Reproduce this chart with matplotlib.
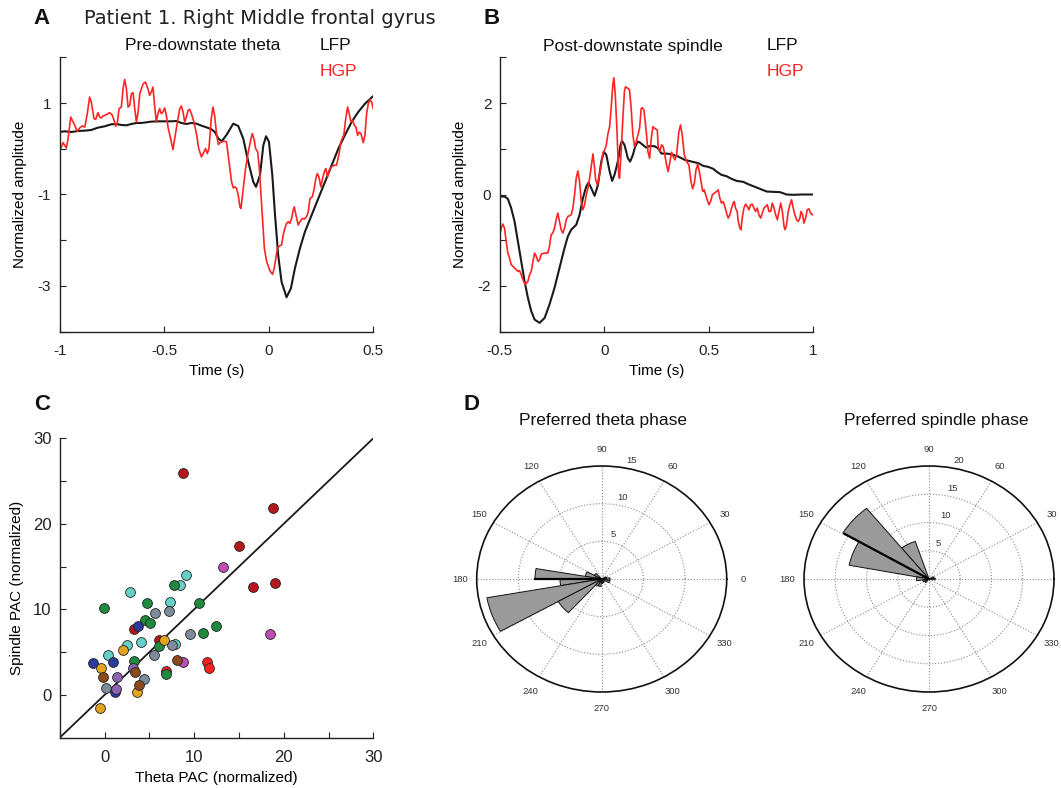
import numpy as np
import matplotlib
matplotlib.use('Agg')
import matplotlib.pyplot as plt

plt.rcParams['font.family'] = ['Liberation Sans', 'DejaVu Sans']

# ---------------- Panel A : pre-downstate theta ----------------
lfp_a_t = [-1.0, -0.976, -0.944, -0.912, -0.880, -0.849, -0.817, -0.785, -0.753, -0.729,
           -0.705, -0.681, -0.657, -0.633, -0.609, -0.586, -0.562, -0.530, -0.498, -0.466,
           -0.442, -0.418, -0.394, -0.370, -0.346, -0.322, -0.298, -0.274, -0.258,
           -0.241, -0.225, -0.201, -0.170, -0.146, -0.122, -0.098, -0.074, -0.061, -0.042,
           -0.026, -0.013, 0.001, 0.017, 0.030, 0.045, 0.061, 0.085, 0.106, 0.125,
           0.149, 0.173, 0.205, 0.237, 0.269, 0.301, 0.333, 0.364, 0.396, 0.428, 0.460, 0.500]
lfp_a_y = [0.367, 0.382, 0.367, 0.389, 0.396, 0.411, 0.462, 0.491, 0.535, 0.542,
           0.520, 0.513, 0.542, 0.564, 0.564, 0.578, 0.593, 0.600, 0.600, 0.600,
           0.607, 0.564, 0.542, 0.564, 0.549, 0.505, 0.469, 0.425, 0.367,
           0.222, 0.164, 0.309, 0.549, 0.498, 0.222, -0.287, -0.724, -0.833, -0.578,
           0.076, 0.273, 0.149, -0.578, -1.451, -2.324, -2.905, -3.247, -3.051, -2.615,
           -2.178, -1.815, -1.451, -1.087, -0.724, -0.360, 0.004, 0.295, 0.585, 0.804, 0.985, 1.153]

hgp_a_t = [-1.000, -0.992, -0.984, -0.976, -0.968, -0.960, -0.947, -0.936, -0.928, -0.916,
           -0.904, -0.893, -0.880, -0.868, -0.857, -0.849, -0.836, -0.828, -0.817, -0.809,
           -0.801, -0.793, -0.777, -0.761, -0.750, -0.740, -0.732, -0.724, -0.716, -0.705,
           -0.697, -0.689, -0.681, -0.673, -0.665, -0.657, -0.649, -0.641, -0.633, -0.625,
           -0.617, -0.601, -0.590, -0.578, -0.570, -0.562, -0.554, -0.546, -0.538, -0.530,
           -0.522, -0.514, -0.506, -0.498, -0.490, -0.482, -0.466, -0.458, -0.450, -0.437,
           -0.426, -0.418, -0.410, -0.402, -0.394, -0.386, -0.378, -0.370, -0.358, -0.346,
           -0.335, -0.322, -0.310, -0.302, -0.294, -0.286, -0.275, -0.267, -0.259,
           -0.249, -0.241, -0.233, -0.217, -0.210, -0.202, -0.194, -0.186, -0.178, -0.170,
           -0.162, -0.154, -0.146, -0.138, -0.133, -0.122, -0.111, -0.098, -0.085, -0.079,
           -0.069, -0.063, -0.053, -0.045, -0.037, -0.029, -0.021, -0.010, 0.006, 0.018,
           0.026, 0.034, 0.042, 0.053, 0.061, 0.069, 0.077, 0.085, 0.093, 0.101,
           0.109, 0.117, 0.122, 0.130, 0.141, 0.149, 0.160, 0.170, 0.181, 0.189,
           0.197, 0.208, 0.216, 0.225, 0.232, 0.240, 0.249, 0.257, 0.268, 0.273,
           0.281, 0.289, 0.300, 0.313, 0.324, 0.335, 0.345, 0.351, 0.359, 0.367,
           0.377, 0.385, 0.393, 0.401, 0.409, 0.417, 0.425, 0.433, 0.441, 0.452,
           0.460, 0.468, 0.476, 0.484, 0.492, 0.500]
hgp_a_y = [-0.069, 0.040, 0.135, 0.076, 0.018, 0.222, 0.695, 0.585, 0.513, 0.382,
           0.455, 0.498, 0.476, 0.767, 1.131, 1.022, 0.658, 0.644, 0.789, 0.695,
           0.673, 0.716, 0.745, 0.789, 0.745, 0.622, 0.491, 0.585, 0.876, 0.913,
           1.313, 1.516, 1.313, 0.913, 0.949, 1.204, 1.225, 0.876, 0.585, 0.804,
           1.204, 1.422, 1.458, 1.313, 1.167, 1.240, 1.349, 0.949, 0.585, 0.767,
           0.876, 0.767, 0.804, 0.891, 0.731, 0.476, 0.149, -0.018, 0.222, 0.585,
           0.876, 0.935, 0.804, 0.585, 0.695, 0.840, 0.862, 0.767, 0.585, 0.331,
           0.004, -0.178, -0.069, 0.004, -0.105, 0.004, 0.658, 0.913, 0.731,
           0.295, 0.091, 0.135, 0.164, 0.164, 0.149, -0.142, -0.433, -0.724, -0.855,
           -0.833, -0.869, -1.015, -1.269, -1.305, -0.869, -0.433, -0.069, 0.222, 0.331,
           0.185, 0.004, -0.069, -0.433, -1.015, -1.596, -2.178, -2.469, -2.673, -2.745,
           -2.615, -2.396, -2.164, -2.120, -2.105, -1.887, -1.742, -1.633, -1.596, -1.633,
           -1.524, -1.342, -1.269, -1.451, -1.669, -1.596, -1.524, -1.538, -1.487, -1.378,
           -1.087, -1.051, -0.905, -0.651, -0.542, -0.615, -0.833, -0.651, -0.469, -0.433,
           -0.615, -0.469, -0.396, -0.360, -0.360, -0.142, 0.149, 0.222, 0.295, 0.622,
           0.913, 0.767, 0.585, 0.622, 0.513, 0.476, 0.295, 0.367, 0.331, 0.135,
           0.295, 0.767, 0.985, 1.073, 1.022, 0.876]

# ---------------- Panel B : post-downstate spindle ----------------
lfp_b_t = [-0.500, -0.477, -0.461, -0.445, -0.429, -0.413, -0.397, -0.381, -0.365, -0.349,
           -0.333, -0.309, -0.285, -0.262, -0.238, -0.214, -0.190, -0.174, -0.158, -0.134,
           -0.118, -0.102, -0.086, -0.075, -0.062, -0.046, -0.030, -0.014, -0.002, 0.010,
           0.026, 0.038, 0.049, 0.065, 0.078, 0.085, 0.097, 0.113, 0.124, 0.137,
           0.148, 0.161, 0.169, 0.185, 0.201, 0.217, 0.241, 0.257,
           0.274, 0.298, 0.322, 0.354, 0.386, 0.418, 0.450, 0.474, 0.498, 0.522,
           0.537, 0.561, 0.585, 0.609, 0.633, 0.665, 0.689, 0.721, 0.753, 0.777,
           0.809, 0.841, 0.872, 0.904, 0.944, 1.000]
lfp_b_y = [-0.044, -0.044, -0.095, -0.298, -0.589, -1.025, -1.462, -1.898, -2.262, -2.553,
           -2.735, -2.807, -2.698, -2.407, -2.044, -1.607, -1.171, -0.916, -0.771, -0.662,
           -0.444, -0.080, 0.175, 0.262, 0.138, -0.029, 0.211, 0.720, 0.938, 0.865,
           0.502, 0.298, 0.429, 0.720, 1.084, 1.171, 1.084, 0.793, 0.720, 0.865,
           1.047, 1.156, 1.142, 1.084, 1.025, 1.062, 1.055, 1.011,
           0.895, 0.895, 0.880, 0.829, 0.756, 0.720, 0.684, 0.625, 0.604, 0.560,
           0.502, 0.429, 0.400, 0.342, 0.298, 0.276, 0.225, 0.167, 0.109, 0.065,
           0.058, 0.051, 0.000, -0.007, 0.000, 0.000]

hgp_b_t = [-0.501, -0.493, -0.485, -0.477, -0.469, -0.461, -0.453, -0.445, -0.437, -0.429,
           -0.421, -0.413, -0.405, -0.397, -0.389, -0.378, -0.365, -0.357, -0.349, -0.341,
           -0.333, -0.325, -0.317, -0.309, -0.301, -0.285, -0.270, -0.262, -0.254, -0.246,
           -0.238, -0.230, -0.222, -0.214, -0.206, -0.198, -0.190, -0.182, -0.174, -0.166,
           -0.158, -0.150, -0.142, -0.134, -0.126, -0.118, -0.110, -0.102, -0.094, -0.086,
           -0.078, -0.070, -0.062, -0.054, -0.046, -0.041, -0.033, -0.026, -0.014, -0.006,
           0.002, 0.010, 0.018, 0.026, 0.033, 0.041, 0.046, 0.053, 0.061, 0.069,
           0.073, 0.081, 0.089, 0.097, 0.102, 0.113, 0.121, 0.129, 0.137, 0.145,
           0.153, 0.161, 0.169, 0.177, 0.182, 0.190, 0.201, 0.209, 0.217, 0.225,
           0.233, 0.241, 0.254,
           0.258, 0.266, 0.274, 0.282, 0.290, 0.298, 0.306, 0.314, 0.322, 0.330,
           0.338, 0.346, 0.357, 0.365, 0.373, 0.383, 0.394, 0.405, 0.415, 0.423,
           0.431, 0.439, 0.447, 0.455, 0.463, 0.471, 0.478, 0.490, 0.501, 0.509,
           0.517, 0.526, 0.537, 0.545, 0.553, 0.561, 0.569, 0.577, 0.585, 0.593,
           0.601, 0.609, 0.617, 0.622, 0.628, 0.636, 0.641, 0.649, 0.654, 0.660,
           0.668, 0.676, 0.684, 0.692, 0.700, 0.708, 0.716, 0.724, 0.732, 0.740,
           0.748, 0.756, 0.764, 0.772, 0.780, 0.788, 0.796, 0.804, 0.812, 0.820,
           0.828, 0.836, 0.844, 0.852, 0.860, 0.865, 0.872, 0.880, 0.888, 0.896,
           0.904, 0.912, 0.920, 0.928, 0.936, 0.941, 0.949, 0.955, 0.963, 0.971,
           0.979, 0.987, 0.995, 1.000]
hgp_b_y = [-0.916, -0.735, -0.647, -0.735, -1.025, -1.280, -1.389, -1.535, -1.571, -1.607,
           -1.644, -1.680, -1.665, -1.753, -1.862, -1.971, -1.898, -1.753, -1.680, -1.462,
           -1.280, -1.353, -1.462, -1.425, -1.302, -1.280, -1.280, -1.135, -0.880, -0.844,
           -0.735, -0.553, -0.407, -0.589, -0.771, -0.844, -0.735, -0.553, -0.480, -0.465,
           -0.444, -0.298, -0.007, 0.356, 0.516, 0.284, -0.153, -0.335, -0.225, -0.007,
           0.138, 0.356, 0.611, 0.887, 0.575, 0.320, 0.211, 0.356, 0.647, 0.902,
           0.975, 1.084, 1.338, 1.484, 1.884, 2.393, 2.553, 2.175, 1.375, 0.429,
           0.356, 0.938, 1.665, 2.284, 2.356, 2.320, 2.284, 1.884, 1.302, 1.047,
           1.156, 1.302, 1.447, 1.884, 1.898, 1.847, 1.375, 0.938, 0.793, 1.229,
           1.484, 1.447, 1.411,
           1.047, 0.938, 1.084, 1.047, 0.865, 0.647, 0.502, 0.720, 0.924, 0.829,
           0.756, 0.865, 1.375, 1.520, 1.302, 0.865, 0.720, 0.647, 0.284, 0.124,
           0.247, 0.538, 0.662, 0.502, 0.284, 0.065, 0.102, -0.080, -0.225, -0.153,
           -0.007, 0.029, 0.065, 0.102, -0.080, -0.189, -0.153, -0.262, -0.407, -0.516,
           -0.444, -0.298, -0.189, -0.153, -0.298, -0.371, -0.589, -0.735, -0.771, -0.516,
           -0.298, -0.211, -0.262, -0.335, -0.225, -0.211, -0.298, -0.371, -0.298, -0.444,
           -0.516, -0.407, -0.298, -0.262, -0.225, -0.371, -0.371, -0.189, -0.298, -0.444,
           -0.553, -0.371, -0.189, -0.371, -0.698, -0.771, -0.662, -0.371, -0.225, -0.116,
           -0.298, -0.444, -0.553, -0.589, -0.516, -0.371, -0.444, -0.625, -0.516, -0.335,
           -0.313, -0.407, -0.444, -0.429]

# ---------------- Panel C : theta vs spindle PAC, per patient ----------------
pac_colors = ['#b5171d', '#c04db4', '#ff1f1f', '#66d0c8', '#1f8a3e',
              '#7d8c9a', '#2b3b9e', '#e3a421', '#8e62b3', '#8b4a1e']
pac_theta = [
    [8.8, 18.8, 15.0, 16.6, 19.0, 3.3, 6.1],
    [13.2, 18.5, 8.8],
    [6.9, 11.4, 11.7],
    [2.9, 9.1, 8.4, 7.3, 4.1, 2.5, 0.4, 7.9],
    [-0.1, 4.7, 7.8, 10.5, 4.5, 5.1, 11.0, 12.4, 3.3, 6.1, 6.9],
    [5.6, 7.2, 9.5, 5.5, 7.5, 4.4, 0.2],
    [-1.3, 0.9, 3.7, 1.2],
    [-0.4, 2.1, 6.6, 3.6, -0.5],
    [1.45, 3.2, 1.3],
    [-0.2, 3.4, 3.9, 8.1],
]
pac_spindle = [
    [25.9, 21.9, 17.4, 12.6, 13.1, 7.7, 6.4],
    [14.9, 7.1, 3.8],
    [2.8, 3.8, 3.2],
    [12.0, 14.0, 12.9, 10.9, 6.2, 5.8, 4.7, 6.0],
    [10.2, 10.7, 12.9, 10.8, 8.8, 8.4, 7.2, 8.1, 4.0, 5.7, 2.4],
    [9.6, 9.8, 7.1, 4.7, 5.8, 1.9, 0.8],
    [3.7, 3.8, 8.1, 0.3],
    [3.2, 5.2, 6.4, 0.35, -1.5],
    [2.1, 3.2, 0.7],
    [2.1, 2.7, 1.2, 4.1],
]
unity_line = [-5, 30]

# ---------------- Panel D : preferred phase roses ----------------
theta_bin_center = [161, 175, 185, 200, 219, 237, 142, 256, 340, 0, 20, 275, 300]
theta_bin_width = [19, 10, 10, 19.5, 18.5, 19, 19, 19, 19, 19, 19, 19, 19]
theta_bin_count = [2, 8, 5, 14, 6, 1, 1, 1, 1, 1, 0.6, 0.6, 0.5]
theta_mean_angle, theta_mean_len = 180, 8
theta_rmax = 15
theta_rings = [5, 10, 15]
theta_angle_labels = ['0', '30', '60', '90', '120', '150', '180', '210', '240', '270', '300', '330']

spindle_bin_center = [118.5, 139, 159.3, 179, 199, 0, 20, 220]
spindle_bin_width = [20.5, 20.8, 19.8, 20, 20, 20, 20, 20]
spindle_bin_count = [7, 16, 13, 2, 1, 1, 0.8, 0.8]
spindle_mean_angle, spindle_mean_len = 149.4, 15.7
spindle_rmax = 20
spindle_rings = [5, 10, 15, 20]
# the "0" label of this rose falls outside the figure in the reference
spindle_angle_labels = ['', '30', '60', '90', '120', '150', '180', '210', '240', '270', '300', '330']

# ---------------- figure ----------------
W, H = 1061, 788
fig = plt.figure(figsize=(W / 100, H / 100), dpi=100)


def fx(px):
    return px / W


def fy(py):
    return 1 - py / H


def style_cart(ax, lsize):
    for s in ['top', 'right']:
        ax.spines[s].set_visible(False)
    for s in ['left', 'bottom']:
        ax.spines[s].set_linewidth(1.0)
        ax.spines[s].set_color('#222222')
    ax.tick_params(direction='in', length=4, width=0.8, labelsize=lsize,
                   colors='#222222')
    ax.tick_params(axis='x', pad=9)
    ax.tick_params(axis='y', pad=6)


RED = '#ff2424'
BLK = '#1a1a1a'

# Panel A
axA = fig.add_axes([fx(59.7), fy(331.7), fx(373.3 - 59.7), (331.7 - 57.3) / H])
axA.plot(lfp_a_t, lfp_a_y, color=BLK, lw=1.5)
axA.plot(hgp_a_t, hgp_a_y, color=RED, lw=1.2)
axA.set_xlim(-1, 0.5)
axA.set_ylim(-4, 2)
axA.set_xticks([-1, -0.5, 0, 0.5])
axA.set_xticklabels(['-1', '-0.5', '0', '0.5'])
axA.set_yticks([-4, -3, -2, -1, 0, 1, 2])
axA.set_yticklabels(['', '-3', '', '-1', '', '1', ''])
style_cart(axA, 11)
axA.set_xlabel('Time (s)', fontsize=11, labelpad=4)
axA.set_ylabel('Normalized amplitude', fontsize=11, labelpad=8)

# Panel B
axB = fig.add_axes([fx(499.7), fy(331.7), fx(813.3 - 499.7), (331.7 - 57.3) / H])
axB.plot(lfp_b_t, lfp_b_y, color=BLK, lw=1.5)
axB.plot(hgp_b_t, hgp_b_y, color=RED, lw=1.2)
axB.set_xlim(-0.5, 1)
axB.set_ylim(-3, 3)
axB.set_xticks([-0.5, 0, 0.5, 1])
axB.set_xticklabels(['-0.5', '0', '0.5', '1'])
axB.set_yticks([-3, -2, -1, 0, 1, 2, 3])
axB.set_yticklabels(['', '-2', '', '0', '', '2', ''])
style_cart(axB, 11)
axB.set_xlabel('Time (s)', fontsize=11, labelpad=4)
axB.set_ylabel('Normalized amplitude', fontsize=11, labelpad=8)

# Panel C
axC = fig.add_axes([fx(59.7), fy(737.7), fx(373.3 - 59.7), (737.7 - 438.3) / H])
axC.plot(unity_line, unity_line, color=BLK, lw=1.3, zorder=2)
for col, xs, ys in zip(pac_colors, pac_theta, pac_spindle):
    axC.scatter(xs, ys, s=50, color=col, edgecolors='#222222', linewidths=0.6, zorder=3)
axC.set_xlim(-5, 30)
axC.set_ylim(-5, 30)
ticksC = [-5, 0, 5, 10, 15, 20, 25, 30]
labsC = ['', '0', '', '10', '', '20', '', '30']
axC.set_xticks(ticksC)
axC.set_xticklabels(labsC)
axC.set_yticks(ticksC)
axC.set_yticklabels(labsC)
style_cart(axC, 12)
axC.set_xlabel('Theta PAC (normalized)', fontsize=11, labelpad=4)
axC.set_ylabel('Spindle PAC (normalized)', fontsize=11, labelpad=6)


def rose(ax, centers, widths, counts, rmax, rings, mean_ang, mean_len, angle_labels):
    ax.set_aspect('auto')
    ax.bar(np.deg2rad(centers), counts, width=np.deg2rad(widths), bottom=0,
           color='#9a9a9a', edgecolor='#111111', linewidth=0.7, align='center', zorder=3)
    ax.plot([np.deg2rad(mean_ang)] * 2, [0, mean_len], color='#000000', lw=1.6, zorder=4)
    ax.set_ylim(0, rmax)
    ax.set_yticks(rings[:-1])
    ax.set_yticklabels([])
    angs = np.arange(0, 360, 30)
    ax.set_xticks(np.deg2rad(angs))
    ax.set_xticklabels(angle_labels, fontsize=6.8, color='#333333')
    ax.tick_params(axis='x', pad=5, length=0)
    ax.grid(True, linestyle=':', color='#8a8a8a', linewidth=0.8)
    ax.spines['polar'].set_linewidth(1.2)
    ax.spines['polar'].set_color('#111111')
    for r in rings:
        ax.text(np.deg2rad(77), r + 0.075 * rmax, str(r), fontsize=6.8, color='#333333',
                ha='center', va='center', zorder=5)


axD1 = fig.add_axes([fx(476.7), fy(692), fx(250), 226 / H], projection='polar')
rose(axD1, theta_bin_center, theta_bin_width, theta_bin_count, theta_rmax, theta_rings,
     theta_mean_angle, theta_mean_len, theta_angle_labels)
axD2 = fig.add_axes([fx(804), fy(692), fx(250), 226 / H], projection='polar')
rose(axD2, spindle_bin_center, spindle_bin_width, spindle_bin_count, spindle_rmax,
     spindle_rings, spindle_mean_angle, spindle_mean_len, spindle_angle_labels)


def ftext(px, py, s, **kw):
    fig.text(fx(px), fy(py), s, **kw)


bold = dict(fontsize=16, fontweight='bold', ha='center', va='center', color='#111111')
ftext(42, 18, 'A', **bold)
ftext(492, 18, 'B', **bold)
ftext(42, 405, 'C', **bold)
ftext(471, 405, 'D', **bold)
ftext(260, 19, 'Patient 1. Right Middle frontal gyrus', fontsize=14, family='DejaVu Sans',
      ha='center', va='center', color='#222222')
ftext(203, 46, 'Pre-downstate theta', fontsize=12.5, ha='center', va='center', color='#111111')
ftext(320, 46, 'LFP', fontsize=12.5, ha='left', va='center', color='#111111')
ftext(320, 72, 'HGP', fontsize=12.5, ha='left', va='center', color=RED)
ftext(633, 46, 'Post-downstate spindle', fontsize=12.5, ha='center', va='center', color='#111111')
ftext(767, 46, 'LFP', fontsize=12.5, ha='left', va='center', color='#111111')
ftext(767, 72, 'HGP', fontsize=12.5, ha='left', va='center', color=RED)
ftext(603, 420, 'Preferred theta phase', fontsize=12.5, ha='center', va='center', color='#111111')
ftext(936, 420, 'Preferred spindle phase', fontsize=12.5, ha='center', va='center', color='#111111')

fig.savefig('out.png', dpi=100, facecolor='white')
